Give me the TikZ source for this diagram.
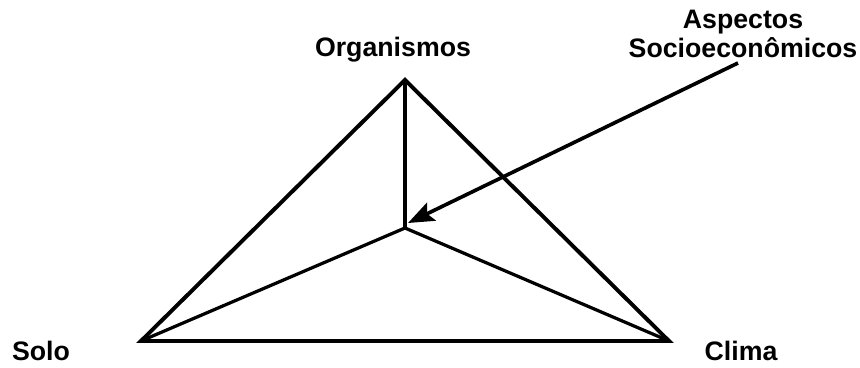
\documentclass[tikz,border=0pt]{standalone}
\usepackage{fontspec}
\setmainfont{Liberation Sans}
\usetikzlibrary{arrows.meta, positioning}

\begin{document}
\begin{tikzpicture}[
    x=0.25mm, y=-0.25mm,
    label-text/.style={font=\bfseries\fontsize{19}{21.3}\selectfont, inner sep=0pt, align=center, anchor=base},
    edge/.style={draw=black, line width=2.8pt, line join=miter},
    inner-edge/.style={draw=black, line width=2.3pt},
    seta/.style={draw=black, line width=2.6pt, -{Stealth[length=6.5mm, width=5mm, inset=1.2mm]}}
]
    \useasboundingbox (0,0) rectangle (860,368);

    \coordinate (org) at (405,80);
    \coordinate (solo) at (141,341);
    \coordinate (clima) at (669,341);
    \coordinate (centro) at (405,228);
    \coordinate (inicio) at (738,63);
    \coordinate (ponta) at (408,223);

    \node[label-text] (t-org) at (393,57) {Organismos};
    \node[label-text] (t-asp) at (743,58) {Aspectos\\Socioecon\^omicos};
    \node[label-text] (t-solo) at (41,361) {Solo};
    \node[label-text] (t-clima) at (741,361) {Clima};

    \draw[edge] (org) -- (clima) -- (solo) -- cycle;
    \draw[inner-edge] (org) -- (centro);
    \draw[inner-edge] (solo) -- (centro) -- (clima);

    \draw[seta] (inicio) -- (ponta);

\end{tikzpicture}
\end{document}
